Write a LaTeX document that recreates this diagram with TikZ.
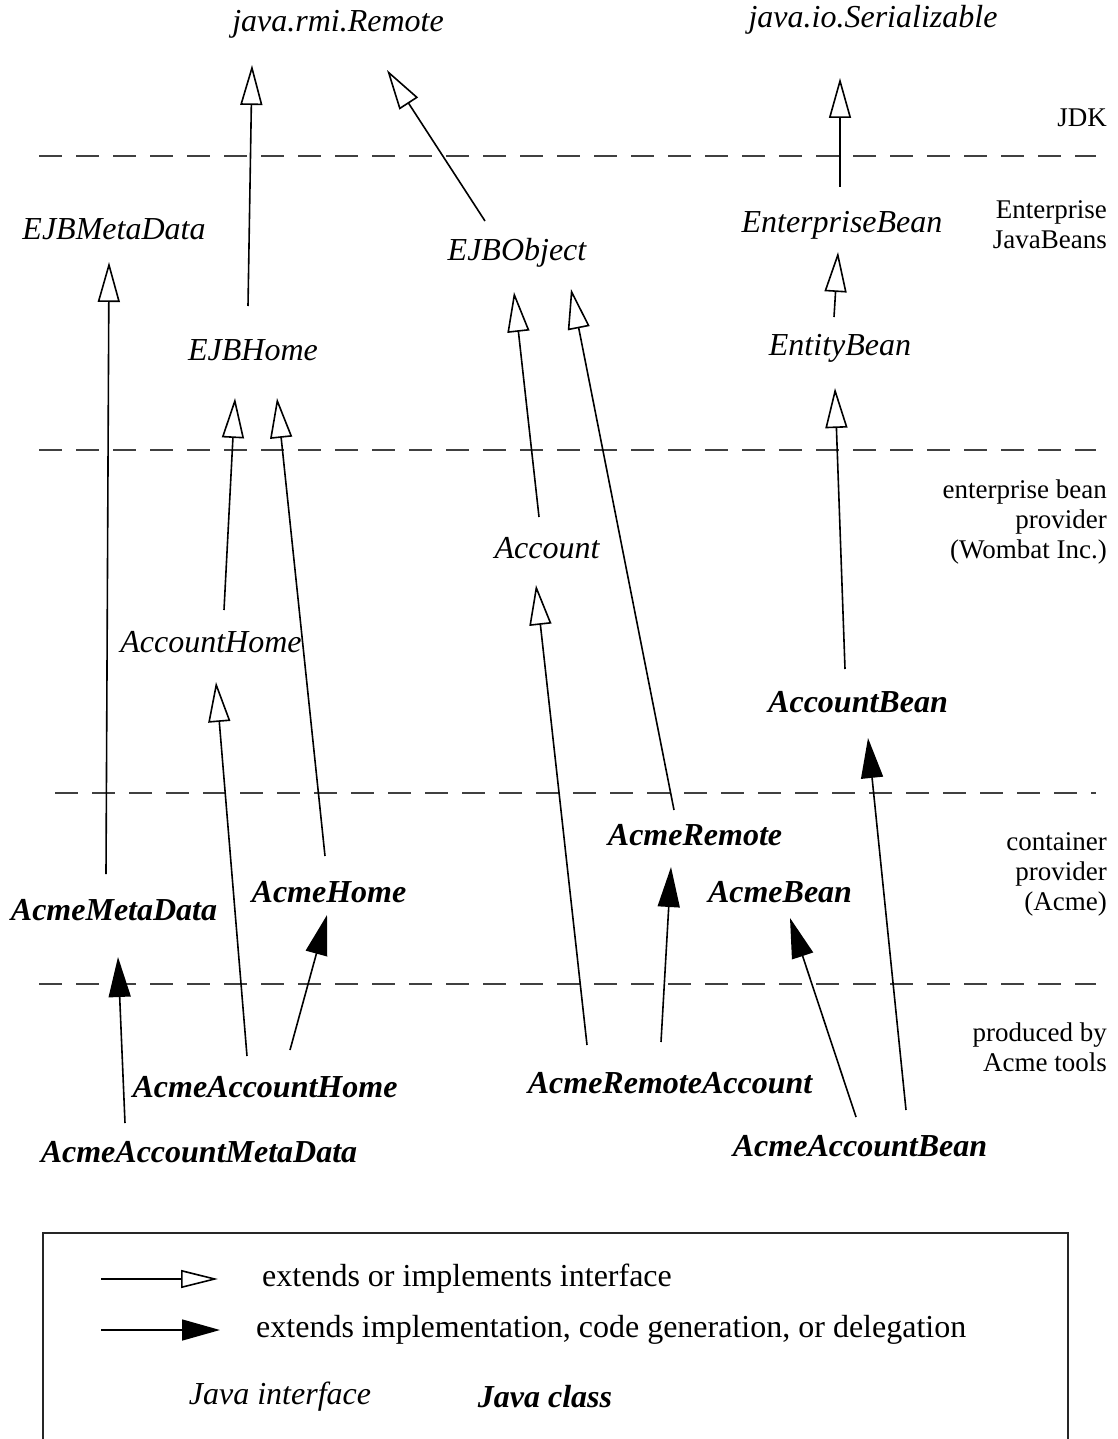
\documentclass[tikz,border=0pt]{standalone}
\usepackage{fontspec}
\setmainfont{Liberation Serif}
\usetikzlibrary{arrows.meta,calc}
\begin{document}
\begin{tikzpicture}[x=1pt,y=-1pt,
  iface/.style={inner sep=0pt,font=\fontsize{32}{38}\selectfont\itshape},
  cls/.style={inner sep=0pt,font=\fontsize{32}{38}\selectfont\bfseries\itshape},
  layer/.style={inner sep=0pt,anchor=east,align=right,font=\fontsize{27}{30}\selectfont},
  legtext/.style={inner sep=0pt,anchor=west,font=\fontsize{32}{38}\selectfont},
  sep/.style={line width=2pt,black!75,dash pattern=on 23pt off 14pt},
  ext/.style={line width=1.6pt,-{Triangle[open,length=40pt,width=22pt,line width=1.6pt]}},
  impl/.style={line width=1.6pt,-{Triangle[length=40pt,width=22pt]}},
  extleg/.style={line width=1.6pt,-{Triangle[open,length=37pt,width=18pt,line width=1.6pt]}},
  implleg/.style={line width=1.6pt,-{Triangle[length=38pt,width=21pt]}}]
\useasboundingbox (0,0) rectangle (1117,1439);

% layer separators
\draw[sep] (39,156) -- (1096,156);
\draw[sep] (39,450) -- (1096,450);
\draw[sep] (55,793) -- (1096,793);
\draw[sep] (39,984) -- (1096,984);

% layer labels
\node[layer] (jdk) at (1107,118) {JDK};
\node[layer] (ejb) at (1107,225) {Enterprise\\JavaBeans};
\node[layer] (prov) at (1107,522) {enterprise bean\\provider\\(Wombat Inc.)};
\node[layer] (cont) at (1107,874) {container\\provider\\(Acme)};
\node[layer] (tools) at (1107,1047) {produced by\\Acme tools};

% interfaces
\node[iface] (remote) at (338,24) {java.rmi.Remote};
\node[iface] (serial) at (873,20) {java.io.Serializable};
\node[iface] (ejbmeta) at (114,229) {EJBMetaData};
\node[iface] (ejbobject) at (517,253) {EJBObject};
\node[iface] (entbean) at (842,225) {EnterpriseBean};
\node[iface] (ejbhome) at (253,350) {EJBHome};
\node[iface] (entity) at (840,348) {EntityBean};
\node[iface] (account) at (547,548) {Account};
\node[iface] (accounthome) at (211,642) {AccountHome};

% classes
\node[cls] (accountbean) at (858,702) {AccountBean};
\node[cls] (acmeremote) at (695,835) {AcmeRemote};
\node[cls] (acmehome) at (329,892) {AcmeHome};
\node[cls] (acmemeta) at (114,910) {AcmeMetaData};
\node[cls] (acmebean) at (780,892) {AcmeBean};
\node[cls] (acmeaccounthome) at (265,1087) {AcmeAccountHome};
\node[cls] (acmeremoteacct) at (670,1083) {AcmeRemoteAccount};
\node[cls] (acmeaccountmeta) at (199,1152) {AcmeAccountMetaData};
\node[cls] (acmeaccountbean) at (860,1146) {AcmeAccountBean};

% extends / implements interface
\draw[ext] ($(ejbhome)+(-5,-44)$) -- ($(remote)+(-86,41)$);
\draw[ext] ($(ejbobject)+(-32,-32)$) -- ($(remote)+(49,46)$);
\draw[ext] ($(entbean)+(-2,-38)$) -- ($(serial)+(-33,58)$);
\draw[ext] ($(entity)+(-6,-31)$) -- ($(entbean)+(-4,27)$);
\draw[ext] ($(acmemeta)+(-8,-36)$) -- ($(ejbmeta)+(-5,33)$);
\draw[ext] ($(account)+(-8,-31)$) -- ($(ejbobject)+(-3,39)$);
\draw[ext] ($(acmeremote)+(-21,-25)$) -- ($(ejbobject)+(54,36)$);
\draw[ext] ($(accounthome)+(13,-32)$) -- ($(ejbhome)+(-18,48)$);
\draw[ext] ($(acmehome)+(-4,-36)$) -- ($(ejbhome)+(24,48)$);
\draw[ext] ($(accountbean)+(-13,-33)$) -- ($(entity)+(-5,40)$);
\draw[ext] ($(acmeaccounthome)+(-18,-31)$) -- ($(accounthome)+(5,40)$);
\draw[ext] ($(acmeremoteacct)+(-83,-38)$) -- ($(account)+(-11,37)$);

% implementation / generation / delegation
\draw[impl] ($(acmeaccountmeta)+(-74,-29)$) -- ($(acmemeta)+(4,47)$);
\draw[impl] ($(acmeaccounthome)+(25,-37)$) -- ($(acmehome)+(-2,23)$);
\draw[impl] ($(acmeremoteacct)+(-9,-41)$) -- ($(acmeremote)+(-24,32)$);
\draw[impl] ($(acmeaccountbean)+(-4,-29)$) -- ($(acmebean)+(10,26)$);
\draw[impl] ($(acmeaccountbean)+(46,-36)$) -- ($(accountbean)+(10,36)$);

% legend
\draw[line width=1.5pt,black!85] (43,1439) -- (43,1233) -- (1068,1233) -- (1068,1439);
\coordinate (l1a) at (101,1279);
\coordinate (l1b) at (218,1279);
\coordinate (l2a) at (101,1330);
\coordinate (l2b) at (220,1330);
\draw[extleg] (l1a) -- (l1b);
\draw[implleg] (l2a) -- (l2b);
\node[legtext] (leg1) at (262,1279) {extends or implements interface};
\node[legtext] (leg2) at (256,1330) {extends implementation, code generation, or delegation};
\node[iface] (legif) at (280,1397) {Java interface};
\node[cls] (legcl) at (545,1397) {Java class};
\end{tikzpicture}
\end{document}
